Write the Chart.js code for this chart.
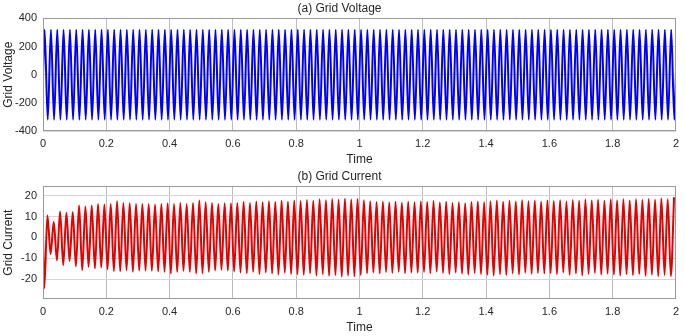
<!DOCTYPE html>
<html><head><meta charset="utf-8">
<script src="https://cdn.jsdelivr.net/npm/chart.js@4/dist/chart.umd.min.js"></script>
<style>
html,body{margin:0;padding:0;background:#fff;width:685px;height:336px;overflow:hidden}
canvas{display:block}
</style></head><body>
<canvas id="cv" width="685" height="168"></canvas>
<canvas id="ci" width="685" height="168"></canvas>
<script>
// ---- data ----
const timeTicks = [0, 0.2, 0.4, 0.6, 0.8, 1, 1.2, 1.4, 1.6, 1.8, 2];
const voltageTicks = [-400, -200, 0, 200, 400];
const currentTicks = [-20, -10, 0, 10, 20];

// one value per 50 Hz cycle (0.02 s), k = 0..99
const voltageCrests = [
 320,320,320,320,320,320,320,320,320,320, 320,320,320,320,320,320,320,320,320,320,
 320,320,320,320,320,320,320,320,320,320, 320,320,320,320,320,320,320,320,320,320,
 320,320,320,320,320,320,320,320,320,320, 320,320,320,320,320,320,320,320,320,320,
 320,320,320,320,320,320,320,320,320,320, 320,320,320,320,320,320,320,320,320,320,
 320,320,320,320,320,320,320,320,320,320, 320,320,320,320,320,320,320,320,320,320];
const voltageTroughs = [
 -320,-320,-320,-320,-320,-320,-320,-320,-320,-320, -320,-320,-320,-320,-320,-320,-320,-320,-320,-320,
 -320,-320,-320,-320,-320,-320,-320,-320,-320,-320, -320,-320,-320,-320,-320,-320,-320,-320,-320,-320,
 -320,-320,-320,-320,-320,-320,-320,-320,-320,-320, -320,-320,-320,-320,-320,-320,-320,-320,-320,-320,
 -320,-320,-320,-320,-320,-320,-320,-320,-320,-320, -320,-320,-320,-320,-320,-320,-320,-320,-320,-320,
 -320,-320,-320,-320,-320,-320,-320,-320,-320,-320, -320,-320,-320,-320,-320,-320,-320,-320,-320,-320];
const currentTroughs = [
 -24.4,-8.0,-11.0,-13.3,-11.3,-13.8,-15.7,-14.1,-14.9,-14.4,
 -15.2,-16.2,-16.2,-15.7,-16.5,-15.8,-15.8,-16.0,-16.3,-16.5,
 -17.3,-16.5,-16.0,-16.5,-17.3,-17.2,-16.5,-15.8,-15.5,-15.8,
 -16.3,-16.8,-17.2,-16.5,-17.5,-16.8,-17.3,-17.8,-16.9,-17.5,
 -17.6,-17.9,-17.2,-18.2,-17.6,-18.4,-18.0,-18.8,-18.3,-18.6,
 -18.0,-17.2,-16.8,-17.3,-16.6,-17.0,-16.5,-17.2,-16.8,-16.9,
 -16.6,-17.2,-16.4,-17.0,-17.5,-16.8,-17.4,-17.8,-17.1,-17.6,
 -17.9,-18.3,-17.6,-18.0,-17.2,-17.8,-16.9,-17.4,-17.0,-17.3,
 -17.1,-17.6,-16.8,-17.9,-17.3,-18.2,-17.5,-17.0,-17.8,-17.4,
 -17.8,-18.3,-17.6,-18.1,-17.5,-18.4,-17.9,-18.6,-18.0,-18.5];
const currentCrests = [
 10.5,7.3,12.4,11.8,12.1,15.2,14.8,15.2,16.0,15.7,
 16.0,17.3,16.5,16.3,16.0,16.0,16.0,15.7,16.0,16.3,
 16.0,16.5,16.0,16.5,17.6,16.8,16.5,16.0,16.3,16.3,
 16.5,17.0,16.4,17.2,16.8,17.3,16.9,17.5,17.1,17.6,
 17.4,17.9,17.5,18.2,17.8,18.4,18.0,18.5,18.1,18.4,
 17.8,17.3,16.9,17.2,16.7,17.1,16.6,17.0,16.8,17.2,
 16.9,17.4,16.7,17.1,16.5,16.8,16.3,16.9,17.2,16.8,
 17.3,17.6,17.0,17.5,17.2,17.8,17.3,17.6,17.1,17.7,
 17.4,17.8,17.2,17.9,17.5,18.1,17.6,18.0,17.5,18.2,
 17.8,18.3,17.7,18.2,17.9,18.4,18.0,18.6,18.2,18.9];
const voltageStartEnd = [0, 0];
const currentStart = 0;
// timing of extremes inside each cycle (s)
const cyclePeriod = 0.02;
const voltageCrestTime = 0.005, voltageTroughTime = 0.015;
const currentTroughTime = 0.004, currentCrestTime = 0.014;

// ---- build point lists ----
const vPts = [{x: 0, y: voltageStartEnd[0]}];
voltageCrests.forEach((c, k) => {
  vPts.push({x: k * cyclePeriod + voltageCrestTime, y: c});
  vPts.push({x: k * cyclePeriod + voltageTroughTime, y: voltageTroughs[k]});
});
vPts.push({x: 2, y: voltageStartEnd[1]});

const iPts = [{x: 0, y: currentStart}];
currentTroughs.forEach((t, k) => {
  iPts.push({x: k * cyclePeriod + currentTroughTime, y: t});
  iPts.push({x: k * cyclePeriod + currentCrestTime, y: currentCrests[k]});
});

const FONT = "'Liberation Sans', Arial, Helvetica, sans-serif";
const TXT = '#262626';

const framePlugin = {
  id: 'frame',
  afterDraw(chart) {
    const {ctx, chartArea: a} = chart;
    ctx.save();
    ctx.strokeStyle = '#9a9a9a';
    ctx.lineWidth = 1;
    ctx.strokeRect(Math.round(a.left) + 0.5, Math.round(a.top) + 0.5,
                   Math.round(a.right - a.left) - 1, Math.round(a.bottom - a.top) - 1);
    ctx.restore();
  }
};

function makeChart(id, pts, color, yMin, yMax, yTicks, yTitle, title) {
  return new Chart(document.getElementById(id), {
    type: 'line',
    data: { datasets: [{ data: pts, borderColor: color, borderWidth: 2,
      borderJoinStyle: 'round', borderCapStyle: 'round',
      pointRadius: 0, cubicInterpolationMode: 'monotone', fill: false }] },
    options: {
      responsive: false, animation: false, parsing: true,
      layout: { padding: { left: 0, right: 6, top: 0, bottom: 0 } },
      plugins: {
        legend: { display: false }, tooltip: { enabled: false },
        title: { display: true, text: title, color: TXT,
          font: { family: FONT, size: 12, weight: 'normal' }, padding: { top: 1, bottom: 3 } }
      },
      scales: {
        x: {
          type: 'linear', min: 0, max: 2,
          afterBuildTicks: s => { s.ticks = timeTicks.map(v => ({ value: v })); },
          afterFit: s => { s.height = 37; },
          ticks: { autoSkip: false, maxRotation: 0, padding: 6, color: TXT,
            font: { family: FONT, size: 11 }, callback: v => String(v) },
          grid: { color: '#bcbcbc', drawTicks: false },
          border: { display: false },
          title: { display: true, text: 'Time', color: TXT,
            font: { family: FONT, size: 12 }, padding: { top: 0, bottom: 1 } }
        },
        y: {
          min: yMin, max: yMax,
          afterBuildTicks: s => { s.ticks = yTicks.map(v => ({ value: v })); },
          afterFit: s => { s.width = 43; },
          ticks: { autoSkip: false, padding: 6, color: TXT,
            font: { family: FONT, size: 11 }, callback: v => String(v) },
          grid: { color: '#d6d6d6', drawTicks: false },
          border: { display: false },
          title: { display: true, text: yTitle, color: TXT,
            font: { family: FONT, size: 12 }, padding: { top: 1, bottom: 0 } }
        }
      }
    },
    plugins: [framePlugin]
  });
}

makeChart('cv', vPts, '#0000ff', -400, 400, voltageTicks, 'Grid Voltage', '(a) Grid Voltage');
makeChart('ci', iPts, '#e60000', -29.5, 24.4, currentTicks, 'Grid Current', '(b) Grid Current');
</script>
</body></html>
